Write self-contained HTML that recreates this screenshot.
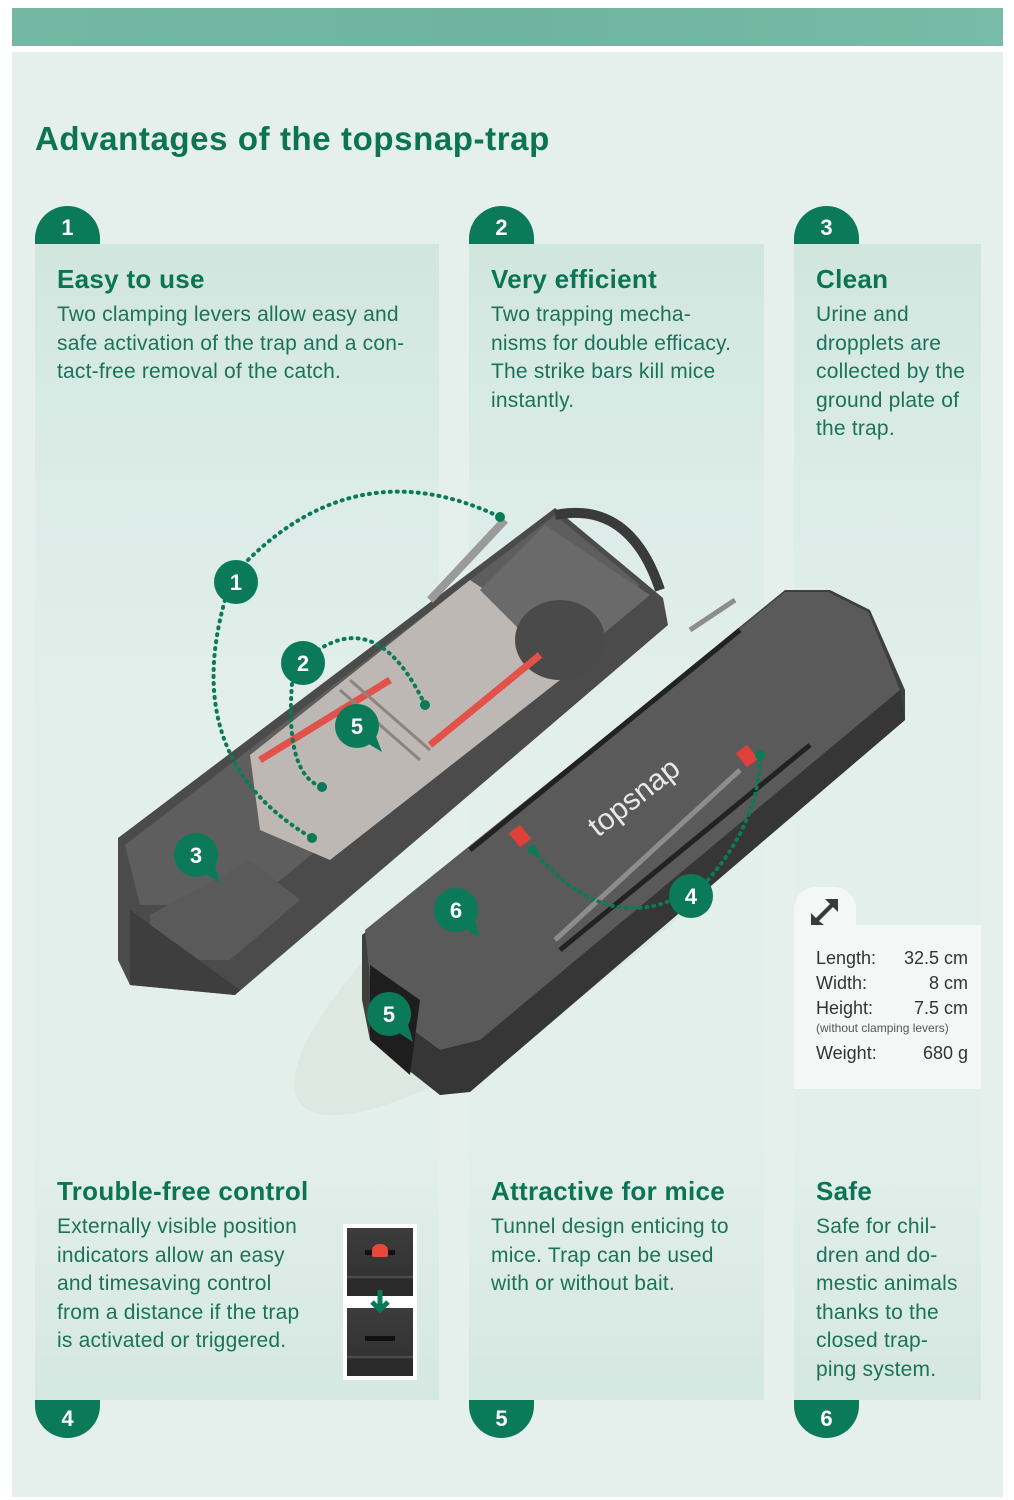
<!DOCTYPE html>
<html><head><meta charset="utf-8"><style>
*{margin:0;padding:0;box-sizing:border-box}
body{width:1014px;height:1500px;background:#fff;position:relative;overflow:hidden;font-family:"Liberation Sans",sans-serif;color:#177359}
.abs{position:absolute}
.banner{left:12px;top:8px;width:991px;height:38px;background:linear-gradient(90deg,#74b8a3,#6fb49f 50%,#78bba6)}
.main{left:12px;top:52px;width:991px;height:1445px;background:#e5f0ed}
.col{background:linear-gradient(180deg,#d1e6df 0px,#dcece7 250px,#e3efeb 500px,#e3efeb 900px,#d5e7e1 1156px)}
.tab{background:#0b7a58;color:#fff;font-weight:bold;font-size:22px;text-align:center;width:65px;height:38px;line-height:44px}
.tt{border-radius:33px 33px 0 0}
.tb{border-radius:0 0 33px 33px;line-height:38px}
h2{font-size:26px;color:#0b7553;font-weight:bold;letter-spacing:.3px}
p{font-size:21px;line-height:28.6px;color:#1a7358;letter-spacing:.2px}
</style></head><body>
<div class="abs banner"></div>
<div class="abs main"></div>
<div class="abs" style="left:35px;top:120px;font-size:33px;font-weight:bold;color:#0b7553;letter-spacing:.6px">Advantages of the topsnap-trap</div>

<div class="abs col" style="left:35px;top:244px;width:404px;height:1156px"></div>
<div class="abs col" style="left:469px;top:244px;width:295px;height:1156px"></div>
<div class="abs col" style="left:794px;top:244px;width:187px;height:1156px"></div>

<div class="abs tab tt" style="left:35px;top:206px">1</div>
<div class="abs tab tt" style="left:469px;top:206px">2</div>
<div class="abs tab tt" style="left:794px;top:206px">3</div>
<div class="abs tab tb" style="left:35px;top:1400px">4</div>
<div class="abs tab tb" style="left:469px;top:1400px">5</div>
<div class="abs tab tb" style="left:794px;top:1400px">6</div>

<div class="abs" style="left:57px;top:264px"><h2>Easy to use</h2><p style="margin-top:6px">Two clamping levers allow easy and<br>safe activation of the trap and a con-<br>tact-free removal of the catch.</p></div>
<div class="abs" style="left:491px;top:264px"><h2>Very efficient</h2><p style="margin-top:6px">Two trapping mecha-<br>nisms for double efficacy.<br>The strike bars kill mice<br>instantly.</p></div>
<div class="abs" style="left:816px;top:264px"><h2>Clean</h2><p style="margin-top:6px">Urine and<br>dropplets are<br>collected by the<br>ground plate of<br>the trap.</p></div>

<div class="abs" style="left:57px;top:1176px"><h2>Trouble-free control</h2><p style="margin-top:6px">Externally visible position<br>indicators allow an easy<br>and timesaving control<br>from a distance if the trap<br>is activated or triggered.</p></div>
<div class="abs" style="left:491px;top:1176px"><h2>Attractive for mice</h2><p style="margin-top:6px">Tunnel design enticing to<br>mice. Trap can be used<br>with or without bait.</p></div>
<div class="abs" style="left:816px;top:1176px"><h2>Safe</h2><p style="margin-top:6px">Safe for chil-<br>dren and do-<br>mestic animals<br>thanks to the<br>closed trap-<br>ping system.</p></div>

<!-- dimension box -->
<div class="abs" style="left:794px;top:887px;width:62px;height:60px;background:#f3f8f6;border-radius:22px 22px 0 0"></div>
<div class="abs" style="left:794px;top:925px;width:187px;height:164px;background:#f3f8f6"></div>
<svg class="abs" style="left:808px;top:895px" width="36" height="36"><g fill="#3a3a3a"><polygon points="3,30 3,18 8,23 22,9 17,4 30,4 30,17 25,12 11,26 16,30"/></g></svg>
<div class="abs" style="left:816px;top:946px;font-size:18px;line-height:25px;color:#333;width:152px">
<div style="display:flex;justify-content:space-between"><span>Length:</span><span>32.5 cm</span></div>
<div style="display:flex;justify-content:space-between"><span>Width:</span><span>8 cm</span></div>
<div style="display:flex;justify-content:space-between"><span>Height:</span><span>7.5 cm</span></div>
<div style="font-size:12px;line-height:14px;color:#555">(without clamping levers)</div>
<div style="display:flex;justify-content:space-between;margin-top:6px"><span>Weight:</span><span>680 g</span></div>
</div>

<!-- indicator images -->
<div class="abs" style="left:343px;top:1224px;width:74px;height:156px;background:#fff"></div>
<div class="abs" style="left:347px;top:1228px;width:66px;height:68px;background:linear-gradient(180deg,#3c3c3c 0,#333 70%,#555 72%,#2a2a2a 75%)"></div>
<div class="abs" style="left:365px;top:1250px;width:30px;height:5px;background:#111"></div>
<div class="abs" style="left:372px;top:1244px;width:16px;height:13px;background:#e8473a;border-radius:7px 7px 2px 2px"></div>
<div class="abs" style="left:347px;top:1308px;width:66px;height:68px;background:linear-gradient(180deg,#3c3c3c 0,#333 70%,#555 72%,#2a2a2a 75%)"></div>
<div class="abs" style="left:365px;top:1336px;width:30px;height:5px;background:#111"></div>
<svg class="abs" style="left:368px;top:1288px" width="24" height="28"><path d="M12 2 V22 M4 14 L12 22 L20 14" stroke="#0b7a58" stroke-width="5" fill="none"/></svg>

<!-- trap illustration -->
<svg class="abs" style="left:0;top:0" width="1014" height="1500">
<ellipse cx="560" cy="900" rx="330" ry="90" transform="rotate(-38 560 900)" fill="#d8e2de" opacity=".6"/>
<!-- open trap -->
<polygon points="118,838 555,508 663,598 668,625 235,995 130,985 118,960" fill="#4b4b4b"/>
<polygon points="125,845 555,515 640,585 250,905 140,905" fill="#5e5e5e"/>
<polygon points="250,755 470,580 560,640 560,680 330,860 260,830" fill="#bdb8b3"/>
<polygon points="480,590 545,525 650,595 560,670" fill="#6a6a6a"/>
<ellipse cx="560" cy="640" rx="45" ry="40" fill="#4a4a4a"/>
<polygon points="150,915 250,860 300,900 230,960 150,960" fill="#5a5a5a"/>
<polygon points="130,910 240,990 235,995 130,985" fill="#3e3e3e"/>
<path d="M260 760 L390 680 M430 745 L540 655" stroke="#e0524a" stroke-width="7"/>
<path d="M340 690 L420 760 M350 680 L430 750" stroke="#8a8580" stroke-width="3"/>
<path d="M430 600 L505 520" stroke="#9a9a9a" stroke-width="8"/>
<path d="M555 515 Q630 500 660 590" stroke="#3a3a3a" stroke-width="10" fill="none"/>
<!-- closed trap -->
<polygon points="362,935 785,590 830,590 870,610 905,690 905,720 470,1090 440,1095 370,1040 362,1000" fill="#3f3f3f"/>
<polygon points="365,930 785,592 828,592 868,612 900,690 480,1040 440,1050 372,1000" fill="#5a5a5a"/>
<polygon points="372,1000 440,1050 480,1040 900,690 905,720 470,1092 440,1095 372,1040" fill="#363636"/>
<polygon points="370,965 420,1000 410,1075 370,1040" fill="#1e1e1e"/>
<path d="M470 850 L740 630 M560 950 L810 745" stroke="#222" stroke-width="5"/>
<path d="M555 940 L740 770" stroke="#8d8d8d" stroke-width="5"/>
<path d="M690 630 L735 600" stroke="#8d8d8d" stroke-width="5"/>
<rect x="513" y="827" width="14" height="18" fill="#e0403a" transform="rotate(-38 520 836)"/>
<rect x="740" y="747" width="14" height="18" fill="#e0403a" transform="rotate(-38 747 756)"/>
<text x="640" y="805" fill="#e8e8e8" font-size="30" font-family="Liberation Sans" transform="rotate(-38 640 805)" text-anchor="middle">topsnap</text>
<g fill="none" stroke="#0b7a58" stroke-width="4" stroke-dasharray="1 6" stroke-linecap="round">
<path d="M248 560 Q360 450 500 517"/>
<path d="M225 600 Q180 760 312 838"/>
<path d="M318 650 Q380 610 425 705"/>
<path d="M292 684 Q285 775 322 787"/>
<path d="M533 850 Q600 930 672 900"/>
<path d="M708 880 Q760 820 760 755"/>
</g>
<g fill="#0b7a58"><circle cx="500" cy="517" r="5"/><circle cx="312" cy="838" r="5"/><circle cx="425" cy="705" r="5"/><circle cx="322" cy="787" r="5"/><circle cx="533" cy="850" r="5"/><circle cx="760" cy="755" r="5"/></g>
<g fill="#0b7a58">
<circle cx="236" cy="582" r="22"/><circle cx="303" cy="663" r="22"/>
<circle cx="357" cy="726" r="22"/><polygon points="362,740 382,752 372,726"/>
<circle cx="196" cy="855" r="22"/><polygon points="200,870 220,883 212,855"/>
<circle cx="456" cy="910" r="22"/><polygon points="460,925 480,938 472,910"/>
<circle cx="389" cy="1014" r="22"/><polygon points="393,1029 413,1042 405,1014"/>
<circle cx="691" cy="896" r="22"/>
</g>
<g fill="#fff" font-family="Liberation Sans" font-weight="bold" font-size="22" text-anchor="middle">
<text x="236" y="590">1</text><text x="303" y="671">2</text><text x="357" y="734">5</text><text x="196" y="863">3</text><text x="456" y="918">6</text><text x="389" y="1022">5</text><text x="691" y="904">4</text>
</g>
</svg>
</body></html>
